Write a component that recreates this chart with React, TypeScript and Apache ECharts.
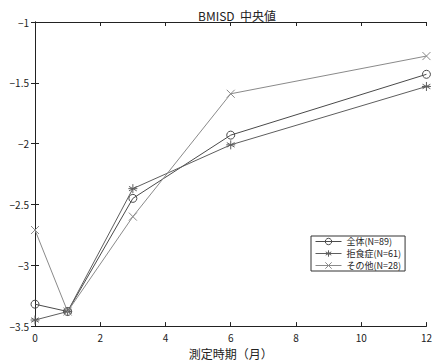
import React, { useEffect, useRef } from "react";
import * as echarts from "echarts";

const months = [0, 1, 3, 6, 12];
const seriesNames = ["全体(N=89)", "拒食症(N=61)", "その他(N=28)"];
const allValues = [-3.32, -3.38, -2.45, -1.93, -1.43];
const anorexiaValues = [-3.45, -3.38, -2.37, -2.01, -1.53];
const otherValues = [-2.71, -3.38, -2.6, -1.59, -1.28];
const yTicks = [-3.5, -3, -2.5, -2, -1.5, -1];

const FONT = "'Noto Sans CJK JP', 'Noto Sans', sans-serif";
const asterisk =
  "path://M0,-10 L0,10 M-8.66,-5 L8.66,5 M-8.66,5 L8.66,-5 M-10,0 L10,0";
const cross = "path://M-10,-10 L10,10 M-10,10 L10,-10";

export default function App() {
  const ref = useRef<HTMLDivElement>(null);
  useEffect(() => {
    if (!ref.current) return;
    const chart = echarts.init(ref.current, undefined, { renderer: "svg" });
    const pair = (vals: number[]) => months.map((m, i) => [m, vals[i]]);
    const mk = (name: string, vals: number[], color: string, symbol: string, size: number) => ({
      name,
      type: "line",
      data: pair(vals),
      symbol,
      symbolSize: size,
      showAllSymbol: true,
      lineStyle: { color, width: 1 },
      itemStyle: { color: "rgba(0,0,0,0)", borderColor: color, borderWidth: 1 },
      emphasis: { disabled: true },
    });
    const tickStyle = { show: true, inside: true, length: 4, lineStyle: { color: "#222" } };
    chart.setOption({
      animation: false,
      backgroundColor: "#fff",
      title: {
        text: "BMISD  中央値",
        left: 232,
        textAlign: "center",
        top: 4,
        textStyle: { fontFamily: FONT, fontSize: 12, fontWeight: "normal", color: "#222" },
      },
      legend: {
        orient: "vertical",
        left: 311,
        top: 236,
        itemWidth: 26,
        itemHeight: 8,
        itemGap: 3,
        padding: [1, 4, 1, 4],
        borderColor: "#333",
        borderWidth: 1,
        backgroundColor: "#fff",
        itemStyle: { borderWidth: 1 },
        lineStyle: { width: 1 },
        textStyle: { fontFamily: FONT, fontSize: 9, lineHeight: 9, color: "#222" },
        data: seriesNames,
      },
      grid: { left: 35, right: 7, top: 22, bottom: 33 },
      xAxis: [
        {
          type: "value",
          min: 0,
          max: 12,
          interval: 2,
          name: "測定時期（月）",
          nameLocation: "middle",
          nameGap: 20,
          nameTextStyle: { fontFamily: FONT, fontSize: 12, color: "#222" },
          axisLine: { lineStyle: { color: "#222" } },
          axisTick: tickStyle,
          splitLine: { show: false },
          axisLabel: { fontFamily: FONT, fontSize: 10, color: "#222", margin: 6 },
        },
        {
          type: "value",
          position: "top",
          min: 0,
          max: 12,
          interval: 2,
          axisLine: { show: true, lineStyle: { color: "#222" } },
          axisTick: tickStyle,
          splitLine: { show: false },
          axisLabel: { show: false },
        },
      ],
      yAxis: [
        {
          type: "value",
          min: -3.5,
          max: -1,
          interval: 0.5,
          axisLine: { show: true, lineStyle: { color: "#222" } },
          axisTick: tickStyle,
          splitLine: { show: false },
          axisLabel: {
            fontFamily: FONT,
            fontSize: 10,
            color: "#222",
            margin: 6,
            formatter: (v: number) =>
              yTicks.includes(v) ? String(v).replace("-", "\u2212") : "",
          },
        },
        {
          type: "value",
          position: "right",
          min: -3.5,
          max: -1,
          interval: 0.5,
          axisLine: { show: true, lineStyle: { color: "#222" } },
          axisTick: tickStyle,
          splitLine: { show: false },
          axisLabel: { show: false },
        },
      ],
      series: [
        mk(seriesNames[0], allValues, "#4a4a4a", "circle", 8),
        mk(seriesNames[1], anorexiaValues, "#5e5e5e", asterisk, 9),
        mk(seriesNames[2], otherValues, "#8a8a8a", cross, 8),
      ],
    });
    return () => chart.dispose();
  }, []);
  return <div ref={ref} style={{ width: 435, height: 364, position: "absolute", left: 0, top: 0 }} />;
}
